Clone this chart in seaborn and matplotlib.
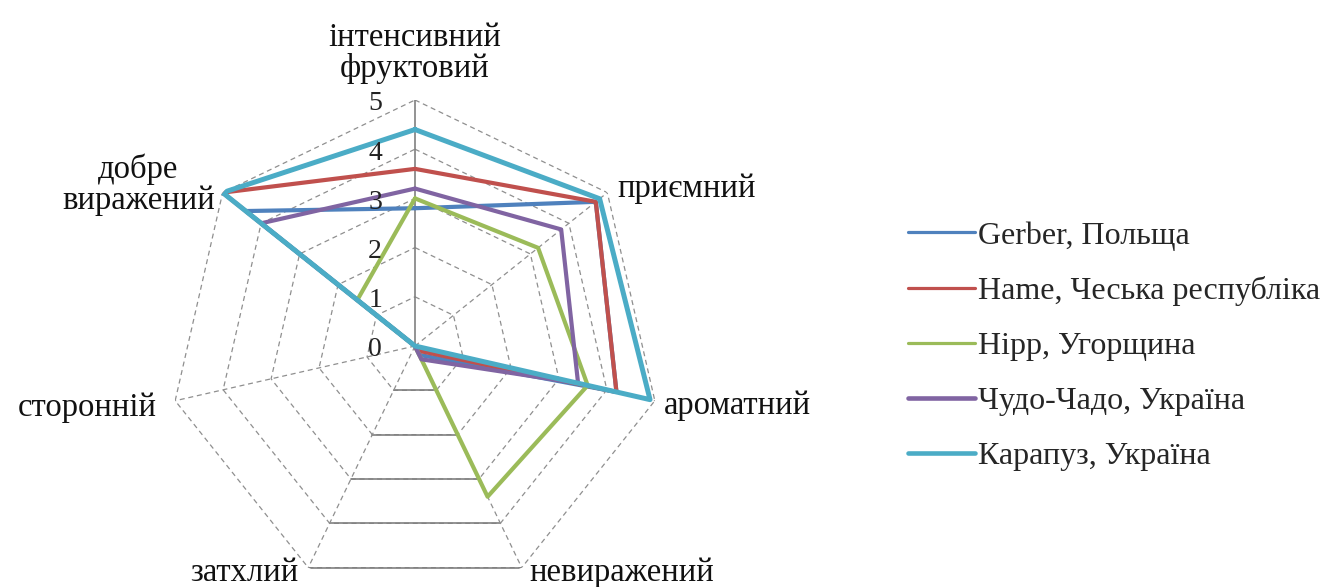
import numpy as np
import pandas as pd
import matplotlib
matplotlib.use("Agg")
import matplotlib.pyplot as plt
from matplotlib.lines import Line2D
import seaborn as sns

# ---- data ----
categories = ['інтенсивний\nфруктовий', 'приємний', 'ароматний', 'невиражений',
              'затхлий', 'сторонній', 'добре\nвиражений']
series_names = ['Gerber, Польща', 'Hame, Чеська республіка', 'Hipp, Угорщина',
                'Чудо-Чадо, Україна', 'Карапуз, Україна']
gerber = [2.8, 4.7, 4.2, 0.2, 0.0, 0.0, 4.4]
hame = [3.6, 4.7, 4.2, 0.1, 0.0, 0.0, 5.0]
hipp = [3.0, 3.2, 3.6, 3.4, 0.0, 0.0, 1.5]
chudo = [3.2, 3.8, 3.4, 0.3, 0.0, 0.0, 4.0]
karapuz = [4.4, 4.8, 4.9, 0.0, 0.0, 0.0, 5.0]
tick_values = [0, 1, 2, 3, 4, 5]

series_values = [gerber, hame, hipp, chudo, karapuz]
colors = ['#4F81BD', '#C0504D', '#9BBB59', '#8064A2', '#4BACC6']
plot_lw = [3.0, 3.0, 3.0, 3.0, 3.6]
legend_lw = [2.3, 2.3, 2.3, 3.3, 3.3]

sns.set_style('white')
plt.rcParams['font.family'] = ['Liberation Serif', 'DejaVu Serif']

n = len(categories)
theta = np.linspace(0, 2 * np.pi, n, endpoint=False)
theta_closed = np.append(theta, theta[0] + 2 * np.pi)

fig = plt.figure(figsize=(13.4, 5.87), dpi=100)
fig.patch.set_facecolor('white')
R_px = 246
cx, cy = 415, 346
W, H = 1340, 587
ax = fig.add_axes([(cx - R_px) / W, (H - cy - R_px) / H, 2 * R_px / W, 2 * R_px / H],
                  projection='polar')
ax.set_theta_zero_location('N')
ax.set_theta_direction(-1)
ax.set_ylim(0, 5)
ax.grid(False)
ax.spines['polar'].set_visible(False)
ax.set_xticks([])
ax.set_yticks([])
ax.set_facecolor('none')

# grid: heptagons
for r in tick_values[1:]:
    ax.plot(theta_closed, [r] * (n + 1), color='#8f8f8f', lw=0.9,
            ls=(0, (4, 3)), zorder=1)
    # bottom edge rendered solid in reference
    ax.plot([theta[3], theta[4]], [r, r], color='#808080', lw=1.2, zorder=1)
# spokes
for k, th in enumerate(theta):
    if k == 0:
        ax.plot([th, th], [0, 5], color='#808080', lw=1.2, zorder=1)
    else:
        ax.plot([th, th], [0, 5], color='#8f8f8f', lw=0.9, ls=(0, (4, 3)), zorder=1)

# data lines
for name, vals, c, lw in zip(series_names, series_values, colors, plot_lw):
    df = pd.DataFrame({'theta': theta_closed, 'value': list(vals) + [vals[0]]})
    sns.lineplot(data=df, x='theta', y='value', sort=False, estimator=None,
                 color=c, lw=lw, ax=ax, zorder=3, legend=False)
ax.set_xlabel('')
ax.set_ylabel('')
ax.set_ylim(0, 5)

# value tick labels
for v in tick_values:
    ax.annotate(str(v), xy=(0, v), xytext=(-33, -4), textcoords='offset pixels',
                ha='right', va='center', fontsize=20, color='#222222', zorder=4)

# category labels: (offset x px, offset y px, ha, va)
lab_style = [
    (0, 16, 'center', 'bottom'),
    (10, 4, 'left', 'center'),
    (9, -5, 'left', 'center'),
    (8, -13, 'left', 'baseline'),
    (-10, -13, 'right', 'baseline'),
    (-18, -7, 'right', 'center'),
    (-8, 8, 'right', 'center'),
]
for th, lab, (dx, dy, ha, va) in zip(theta, categories, lab_style):
    ax.annotate(lab, xy=(th, 5), xytext=(dx, dy), textcoords='offset pixels',
                ha=ha, va=va, fontsize=23.5, color='#111111', linespacing=1.02,
                multialignment='center', annotation_clip=False)

handles = [Line2D([0], [0], color=c, lw=lw) for c, lw in zip(colors, legend_lw)]
fig.legend(handles, series_names, loc='center left', bbox_to_anchor=(908 / W, 1 - 346 / H),
           frameon=False, fontsize=23, handlelength=2.1, handletextpad=0.08,
           labelspacing=0.8, borderpad=0, borderaxespad=0)

fig.savefig('out.png', dpi=100, facecolor='white')
